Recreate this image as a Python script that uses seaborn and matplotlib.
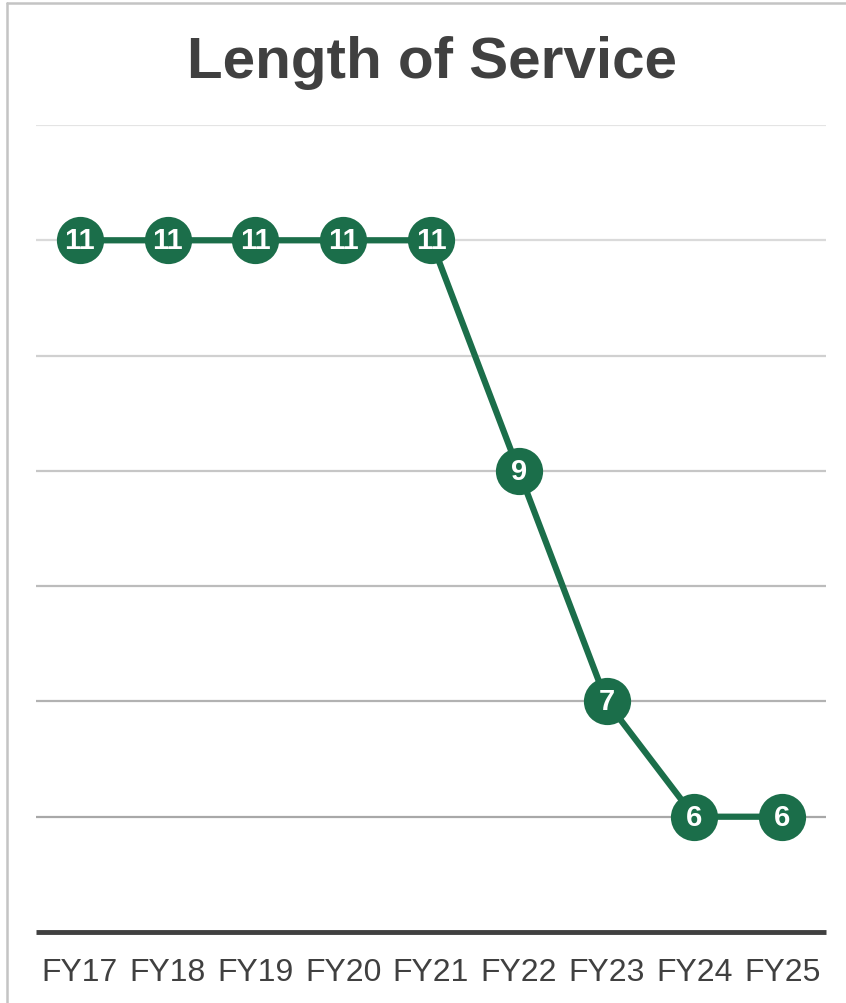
import matplotlib
matplotlib.use("Agg")
import matplotlib.pyplot as plt
from matplotlib.lines import Line2D
import seaborn as sns
import pandas as pd

years = ["FY17", "FY18", "FY19", "FY20", "FY21", "FY22", "FY23", "FY24", "FY25"]
values = [11, 11, 11, 11, 11, 9, 7, 6, 6]
title = "Length of Service"

sns.set_theme(style="white")
plt.rcParams['font.family'] = ['Liberation Sans', 'DejaVu Sans']

green = "#1b6e4a"
dark = "#404040"

df = pd.DataFrame({"year": years, "value": values})
df["x"] = range(len(years))

fig = plt.figure(figsize=(8.46, 10.04), dpi=100)
ax = fig.add_axes([36/846, (1004-933)/1004, 790/846, (933-126)/1004])

grid_vals = [12, 11, 10, 9, 8, 7, 6]
grid_cols = ["#e4e4e4", "#dadada", "#d0d0d0", "#c6c6c6", "#bcbcbc", "#b2b2b2", "#a8a8a8"]
for gv, gc in zip(grid_vals, grid_cols):
    ax.axhline(gv, color=gc, lw=1.6, zorder=0)

sns.lineplot(data=df, x="x", y="value", ax=ax, color=green, lw=4.5,
             marker="o", markersize=34, markeredgewidth=0, zorder=3)
for xi, v in zip(df["x"], df["value"]):
    ax.text(xi, v, str(v), color="white", fontsize=21, fontweight="bold",
            ha="center", va="center", zorder=4)

ax.set_xlim(-0.5, len(years) - 0.5)
ax.set_ylim(5, 12)
ax.set_xticks(list(df["x"]))
ax.set_xticklabels(years, fontsize=23, color=dark)
ax.set_yticks([])
ax.set_xlabel("")
ax.set_ylabel("")
for s in ["top", "left", "right"]:
    ax.spines[s].set_visible(False)
ax.spines["bottom"].set_color(dark)
ax.spines["bottom"].set_linewidth(3.5)
ax.spines["bottom"].set_capstyle("butt")
ax.tick_params(axis="x", length=0, pad=18)

fig.text(432/846, 1 - 63/1004, title, ha="center", va="center",
         fontsize=42, fontweight="bold", color=dark)

fig.add_artist(Line2D([7/846, 7/846], [0, 1 - 4/1004], color="#c4c4c4", lw=1.8,
                      transform=fig.transFigure))
fig.add_artist(Line2D([7/846, 1], [1 - 4/1004, 1 - 4/1004], color="#c4c4c4", lw=1.8,
                      transform=fig.transFigure))

fig.savefig("out.png", dpi=100)
